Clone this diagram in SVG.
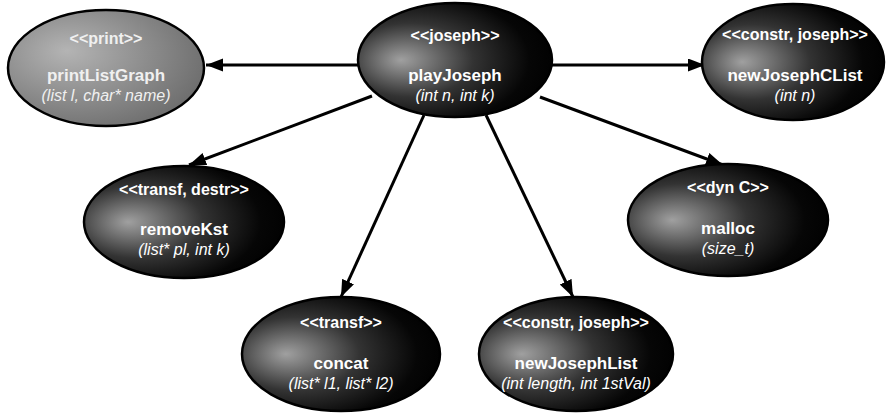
<svg xmlns="http://www.w3.org/2000/svg" width="896" height="417" viewBox="0 0 896 417">
<defs>
<radialGradient id="dark" cx="0.33" cy="0.5" r="0.72" fx="0.22" fy="0.5">
<stop offset="0" stop-color="#a0a0a0"/>
<stop offset="0.45" stop-color="#333"/>
<stop offset="0.8" stop-color="#060606"/>
<stop offset="1" stop-color="#000"/>
</radialGradient>
<radialGradient id="gray" cx="0.35" cy="0.4" r="0.7" fx="0.3" fy="0.35">
<stop offset="0" stop-color="#b4b4b4"/>
<stop offset="1" stop-color="#6c6c6c"/>
</radialGradient>
<marker id="arr" markerUnits="userSpaceOnUse" markerWidth="18" markerHeight="14" refX="17" refY="6.5" orient="auto">
<path d="M0,0 L17,6.5 L0,13 z" fill="#000"/>
</marker>
</defs>
<style>
.n ellipse{stroke:#000;stroke-width:2.5}
.d ellipse{fill:url(#dark)}
.g ellipse{fill:url(#gray)}
text{font-family:"Liberation Sans",Arial,sans-serif;font-size:16px;text-anchor:middle;fill:#fff}
.g text{fill:#f0f0f0}
.s{font-weight:bold;font-size:16px}
.m{font-weight:bold;font-size:17px}
.p{font-style:italic;font-size:16px}
#connectors line{stroke:#000;stroke-width:3;marker-end:url(#arr)}
</style>
<rect width="896" height="417" fill="#fff"/>
<g id="connectors">
<line x1="360" y1="65" x2="206" y2="65"/>
<line x1="552" y1="65" x2="705" y2="65"/>
<line x1="372" y1="96" x2="189" y2="165"/>
<line x1="540" y1="97" x2="723" y2="165"/>
<line x1="424" y1="115" x2="341" y2="297"/>
<line x1="486" y1="115" x2="573" y2="297"/>
</g>
<g id="printListGraph" class="n g">
<ellipse cx="106" cy="68" rx="98" ry="58"/>
<text class="s" x="106" y="44">&lt;&lt;print&gt;&gt;</text>
<text class="m" x="106" y="81">printListGraph</text>
<text class="p" x="106" y="101">(list l, char* name)</text>
</g>
<g id="playJoseph" class="n d">
<ellipse cx="455" cy="60" rx="97" ry="57"/>
<text class="s" x="455" y="41">&lt;&lt;joseph&gt;&gt;</text>
<text class="m" x="455" y="81">playJoseph</text>
<text class="p" x="455" y="101">(int n, int k)</text>
</g>
<g id="newJosephCList" class="n d">
<ellipse cx="793" cy="62" rx="91" ry="58"/>
<text class="s" x="795" y="40">&lt;&lt;constr, joseph&gt;&gt;</text>
<text class="m" x="795" y="81">newJosephCList</text>
<text class="p" x="795" y="101">(int n)</text>
</g>
<g id="removeKst" class="n d">
<ellipse cx="184" cy="222" rx="100" ry="56"/>
<text class="s" x="184" y="195">&lt;&lt;transf, destr&gt;&gt;</text>
<text class="m" x="184" y="235">removeKst</text>
<text class="p" x="184" y="255">(list* pl, int k)</text>
</g>
<g id="malloc" class="n d">
<ellipse cx="728" cy="220" rx="100" ry="56"/>
<text class="s" x="728" y="193">&lt;&lt;dyn C&gt;&gt;</text>
<text class="m" x="728" y="234">malloc</text>
<text class="p" x="728" y="254">(size_t)</text>
</g>
<g id="concat" class="n d">
<ellipse cx="341" cy="354" rx="99" ry="57"/>
<text class="s" x="341" y="328">&lt;&lt;transf&gt;&gt;</text>
<text class="m" x="341" y="369">concat</text>
<text class="p" x="341" y="389">(list* l1, list* l2)</text>
</g>
<g id="newJosephList" class="n d">
<ellipse cx="576" cy="354" rx="97" ry="57"/>
<text class="s" x="576" y="328">&lt;&lt;constr, joseph&gt;&gt;</text>
<text class="m" x="576" y="369">newJosephList</text>
<text class="p" x="576" y="389">(int length, int 1stVal)</text>
</g>
</svg>
